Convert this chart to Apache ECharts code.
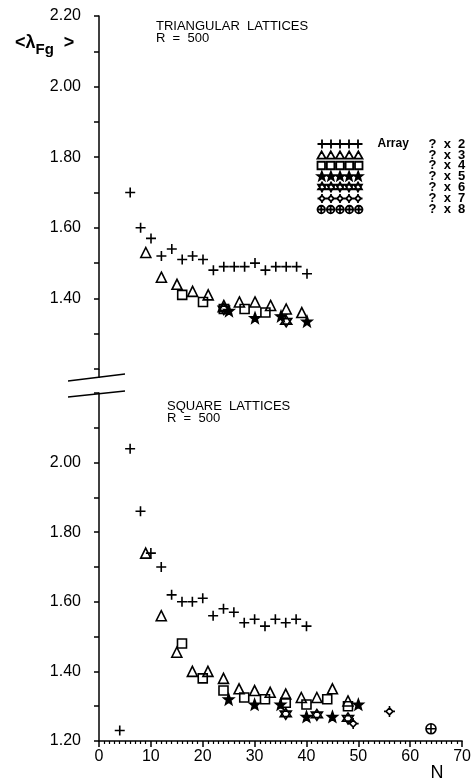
<!DOCTYPE html>
<html>
<head>
<meta charset="utf-8">
<script src="https://cdn.jsdelivr.net/npm/echarts@6/dist/echarts.min.js"></script>
<style>
  html, body { margin: 0; padding: 0; background: #fff; }
  #chart { width: 474px; height: 782px; }
</style>
</head>
<body>
<div id="chart"></div>
<script>
// triangular lattices, R = 500 : [N, <lambda_Fg>]
var triX2 = [[6,1.70],[8,1.60],[10,1.57],[12,1.52],[14,1.54],[16,1.51],[18,1.52],[20,1.51],[22,1.48],[24,1.49],[26,1.49],[28,1.49],[30,1.50],[32,1.48],[34,1.49],[36,1.49],[38,1.49],[40,1.47]];
var triX3 = [[9,1.53],[12,1.46],[15,1.44],[18,1.42],[21,1.41],[24,1.38],[27,1.39],[30,1.39],[33,1.38],[36,1.37],[39,1.36]];
var triX4 = [[16,1.41],[20,1.39],[24,1.37],[28,1.37],[32,1.36]];
var triX5 = [[25,1.365],[30,1.345],[35,1.35],[40,1.335]];
var triX6 = [[24,1.37],[36,1.335]];

// square lattices, R = 500
var sqX2 = [[4,1.23],[6,2.04],[8,1.86],[10,1.74],[12,1.70],[14,1.62],[16,1.60],[18,1.60],[20,1.61],[22,1.56],[24,1.58],[26,1.57],[28,1.54],[30,1.55],[32,1.53],[34,1.55],[36,1.54],[38,1.55],[40,1.53]];
var sqX3 = [[9,1.74],[12,1.56],[15,1.455],[18,1.40],[21,1.40],[24,1.38],[27,1.35],[30,1.345],[33,1.34],[36,1.335],[39,1.325],[42,1.325],[45,1.35],[48,1.315]];
var sqX4 = [[16,1.48],[20,1.38],[24,1.345],[28,1.325],[32,1.32],[36,1.31],[40,1.305],[44,1.32],[48,1.30]];
var sqX5 = [[25,1.32],[30,1.305],[35,1.305],[40,1.27],[45,1.27],[50,1.305]];
var sqX6 = [[36,1.278],[42,1.275],[48,1.265]];
var sqX7 = [[49,1.25],[56,1.285]];
var sqX8 = [[64,1.235]];

var seriesNames = ['x2','x3','x4','x5','x6','x7','x8'];
var legendLabels = ['?  x  2','?  x  3','?  x  4','?  x  5','?  x  6','?  x  7','?  x  8'];
var xTicks = [0, 70, 10];      // min, max, interval
var yTicks = [1.2, 2.2, 0.1];

// marker shapes in a 10x10 box, shifted by ox
function plusP(ox){ return 'M'+(ox+5)+',0V10M'+ox+',5H'+(ox+10); }
function triP(ox){ return 'M'+(ox+5)+',1L'+(ox+9.5)+',9L'+(ox+0.5)+',9Z'; }
function rectP(ox){ return 'M'+(ox+1)+',1H'+(ox+9)+'V9H'+(ox+1)+'Z'; }
function starP(ox){
  var p = [[5,0],[6.23,3.3],[9.76,3.45],[7,5.65],[7.94,9.05],[5,7.1],[2.06,9.05],[3,5.65],[0.24,3.45],[3.77,3.3]];
  return 'M' + p.map(function(q){ return (q[0]+ox)+','+q[1]; }).join('L') + 'Z';
}
function hexP(ox){
  return 'M'+(ox+5)+',0L'+(ox+9.33)+',7.5L'+(ox+0.67)+',7.5Z' +
         'M'+(ox+5)+',10L'+(ox+0.67)+',2.5L'+(ox+9.33)+',2.5Z';
}
function diaP(ox){
  return 'M'+(ox+5)+',1.8L'+(ox+8.2)+',5L'+(ox+5)+',8.2L'+(ox+1.8)+',5Z' +
         'M'+(ox+5)+',0V1.8M'+(ox+5)+',8.2V10M'+ox+',5H'+(ox+1.8)+'M'+(ox+8.2)+',5H'+(ox+10);
}
function cirP(ox){
  return 'M'+(ox+1)+',5A4,4,0,1,1,'+(ox+9)+',5A4,4,0,1,1,'+(ox+1)+',5Z' +
         'M'+(ox+5)+',1V9M'+(ox+1)+',5H'+(ox+9);
}
var shapes = [plusP, triP, rectP, starP, hexP, diaP, cirP];
var fills = ['none','none','none','#000','none','none','none'];
var sizes = [10, 10, 9, 10, 11, 11, 10];

function one(fn){ return 'path://' + fn(0); }
function five(fn){ var s=''; for (var i=0;i<5;i++) s += fn(i*10); return 'path://' + s; }

function mk(idx, data, panel){
  return {
    name: seriesNames[idx],
    type: 'scatter',
    xAxisIndex: panel,
    yAxisIndex: panel,
    symbol: one(shapes[idx]),
    symbolSize: sizes[idx],
    itemStyle: { color: fills[idx], borderColor: '#000', borderWidth: 1.6, opacity: 1 },
    data: data,
    animation: false
  };
}

function yFmt(skip){
  return function(v){
    var k = Math.round(v*10);
    return (k % 2 === 0 && k !== skip) ? v.toFixed(2) : '';
  };
}

var font = 'Liberation Sans, Arial, sans-serif';
var axisY = function(idx, skip){
  return {
    type: 'value', gridIndex: idx,
    min: yTicks[0], max: yTicks[1], interval: yTicks[2],
    axisLine: { show: true, lineStyle: { color: '#000', width: 1.5 } },
    axisTick: { show: true, inside: false, length: 5, lineStyle: { color: '#000', width: 1.5 } },
    axisLabel: { formatter: yFmt(skip), color: '#000', fontSize: 16, fontFamily: font, margin: 18 },
    splitLine: { show: false }
  };
};

var chart = echarts.init(document.getElementById('chart'));
var option = {
  backgroundColor: '#fff',
  animation: false,
  title: [
    { text: '{a|<λ}{b|Fg}{a|  >}', left: 10, top: 25,
      textStyle: { rich: {
        a: { fontSize: 18, fontFamily: font, color: '#000' },
        b: { fontSize: 15, fontFamily: font, color: '#000', padding: [12,0,0,0] }
      } } },
    { text: 'TRIANGULAR  LATTICES\nR  =  500', left: 151, top: 15,
      textStyle: { fontSize: 13, fontWeight: 'normal', fontFamily: font, color: '#000', lineHeight: 12 } },
    { text: 'SQUARE  LATTICES\nR  =  500', left: 162, top: 395,
      textStyle: { fontSize: 13, fontWeight: 'normal', fontFamily: font, color: '#000', lineHeight: 12 } }
  ],
  legend: {
    orient: 'vertical', left: 310, top: 132,
    itemWidth: 45, itemHeight: 9, itemGap: -2.5,
    itemStyle: { borderWidth: 1.8 },
    data: seriesNames.map(function(n, i){ return { name: n, icon: five(shapes[i]) }; }),
    formatter: function(name){
      var i = seriesNames.indexOf(name);
      return (i === 0 ? '{a|Array}' : '{a| }') + '{b|' + legendLabels[i] + '}';
    },
    textStyle: {
      fontSize: 13, fontWeight: 'bold', fontFamily: font, color: '#000', lineHeight: 9,
      rich: {
        a: { width: 51, padding: [0,0,0,10], fontSize: 12, fontWeight: 'bold', fontFamily: font, color: '#000', lineHeight: 9 },
        b: { fontSize: 13, fontWeight: 'bold', fontFamily: font, color: '#000', lineHeight: 9 }
      }
    },
    selectedMode: false
  },
  grid: [
    { left: 99, right: 11, top: 16, height: 353 },
    { left: 99, right: 11, top: 393, height: 353 }
  ],
  xAxis: [
    { type: 'value', gridIndex: 0, min: xTicks[0], max: xTicks[1], interval: xTicks[2], show: false },
    { type: 'value', gridIndex: 1, min: xTicks[0], max: xTicks[1], interval: xTicks[2],
      name: 'N', nameLocation: 'end', nameGap: -25,
      nameTextStyle: { fontSize: 18, fontFamily: font, color: '#000', align: 'center', verticalAlign: 'top', padding: [23,0,0,0] },
      axisLine: { show: true, onZero: false, lineStyle: { color: '#000', width: 1.5 } },
      axisTick: { show: true, length: 6, lineStyle: { color: '#000', width: 1.5 } },
      minorTick: { show: true, splitNumber: 10, length: 3, lineStyle: { color: '#000', width: 1.2 } },
      axisLabel: { color: '#000', fontSize: 16, fontFamily: font, margin: 8 },
      splitLine: { show: false }
    }
  ],
  yAxis: [ axisY(0, 12), axisY(1, 22) ],
  graphic: [
    { type: 'line', shape: { x1: 99, y1: 369, x2: 99, y2: 378 }, style: { stroke: '#000', lineWidth: 1.5 } },
    { type: 'line', shape: { x1: 68, y1: 381, x2: 125, y2: 374 }, style: { stroke: '#000', lineWidth: 1.5 } },
    { type: 'line', shape: { x1: 68, y1: 397, x2: 125, y2: 391 }, style: { stroke: '#000', lineWidth: 1.5 } }
  ],
  series: [
    mk(0, triX2, 0), mk(1, triX3, 0), mk(2, triX4, 0), mk(3, triX5, 0), mk(4, triX6, 0),
    mk(0, sqX2, 1), mk(1, sqX3, 1), mk(2, sqX4, 1), mk(3, sqX5, 1), mk(4, sqX6, 1), mk(5, sqX7, 1), mk(6, sqX8, 1)
  ]
};
chart.setOption(option);
</script>
</body>
</html>
